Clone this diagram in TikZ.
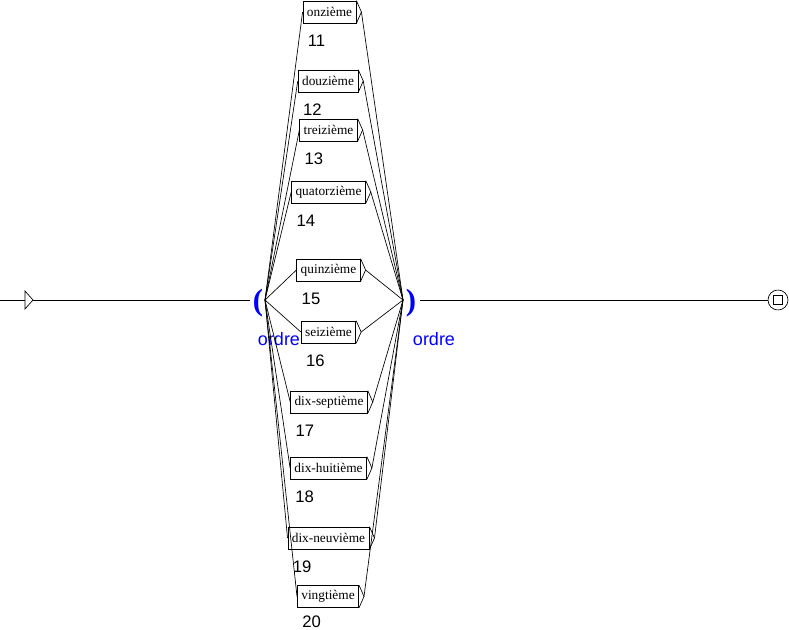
\documentclass[tikz,border=0pt]{standalone}
\usepackage{fontspec}
\setmainfont{Liberation Serif}
\newfontfamily\etiq{Liberation Sans}
\usetikzlibrary{positioning, calc}

\begin{document}
\begin{tikzpicture}[x=0.75pt, y=-0.75pt, line width=0.5pt,
        boite/.style={
                draw,
                fill=white,
                rectangle,
                font=\fontsize{10}{12}\selectfont,
                inner xsep=3pt,
                inner ysep=0pt,
                minimum height=16.5pt,
        },
        numero/.style={font=\etiq\fontsize{12.5}{14}\selectfont, inner sep=0pt, text depth=0pt, anchor=west},
        paren/.style={text=blue, font=\bfseries\fontsize{23}{25}\selectfont, inner sep=0pt},
        sortie/.style={text=blue, font=\etiq\fontsize{13.5}{15}\selectfont, inner sep=0pt},
        ]
    \useasboundingbox (0,0) rectangle (789,630);

    % initial state
    \coordinate (debut) at (0,300);
    \coordinate (init) at (25,300);
    \coordinate (initp) at (33,300);
    \draw (debut) -- (init);
    \draw (25,291) -- (initp) -- (25,309) -- cycle;

    % ( ordre
    \node[paren] (pg) at (258,303) {(};
    \node[sortie] (og) at (279,339) {ordre};
    \coordinate (ouvre) at (265,300);
    \draw (initp) -- (250,300);

    % ) ordre
    \node[paren] (pd) at (411,303) {)};
    \node[sortie] (od) at (434,339) {ordre};
    \coordinate (ferme) at (403,300);

    % final state
    \node[draw, circle, minimum size=15pt, inner sep=0pt] (fin) at (778,300) {};
    \node[draw, rectangle, minimum size=7pt, inner sep=0pt] (fincarre) at (fin) {};
    \draw (420,300) -- (fin.west);

    % the words
    \foreach \nom/\x/\y/\mot/\num/\dy in {
            b11/329.5/12/onzième/11/17,
            b12/328/81/douzième/12/17,
            b13/328.5/130/treizième/13/17,
            b14/328.5/192/quatorzième/14/17,
            b15/328.5/270/quinzième/15/17,
            b16/328.5/332/seizième/16/17,
            b17/329/402/dix-septième/17/17,
            b18/328.5/468/dix-huitième/18/17,
            b19/328.5/538/dix-neuvième/19/17,
            b20/328/596.5/vingtième/20/14} {
        \node[boite] (\nom) at (\x,\y) {\mot};
        \node[numero] (n\nom) at ([shift={(5,\dy)}]\nom.south west) {\num};
        \coordinate (t\nom) at ([shift={(5,0)}]\nom.east);
        \draw (\nom.north east) -- (t\nom) -- (\nom.south east);
        \draw (ouvre) -- (\nom.west);
        \draw (t\nom) -- (ferme);
    }
\end{tikzpicture}
\end{document}
